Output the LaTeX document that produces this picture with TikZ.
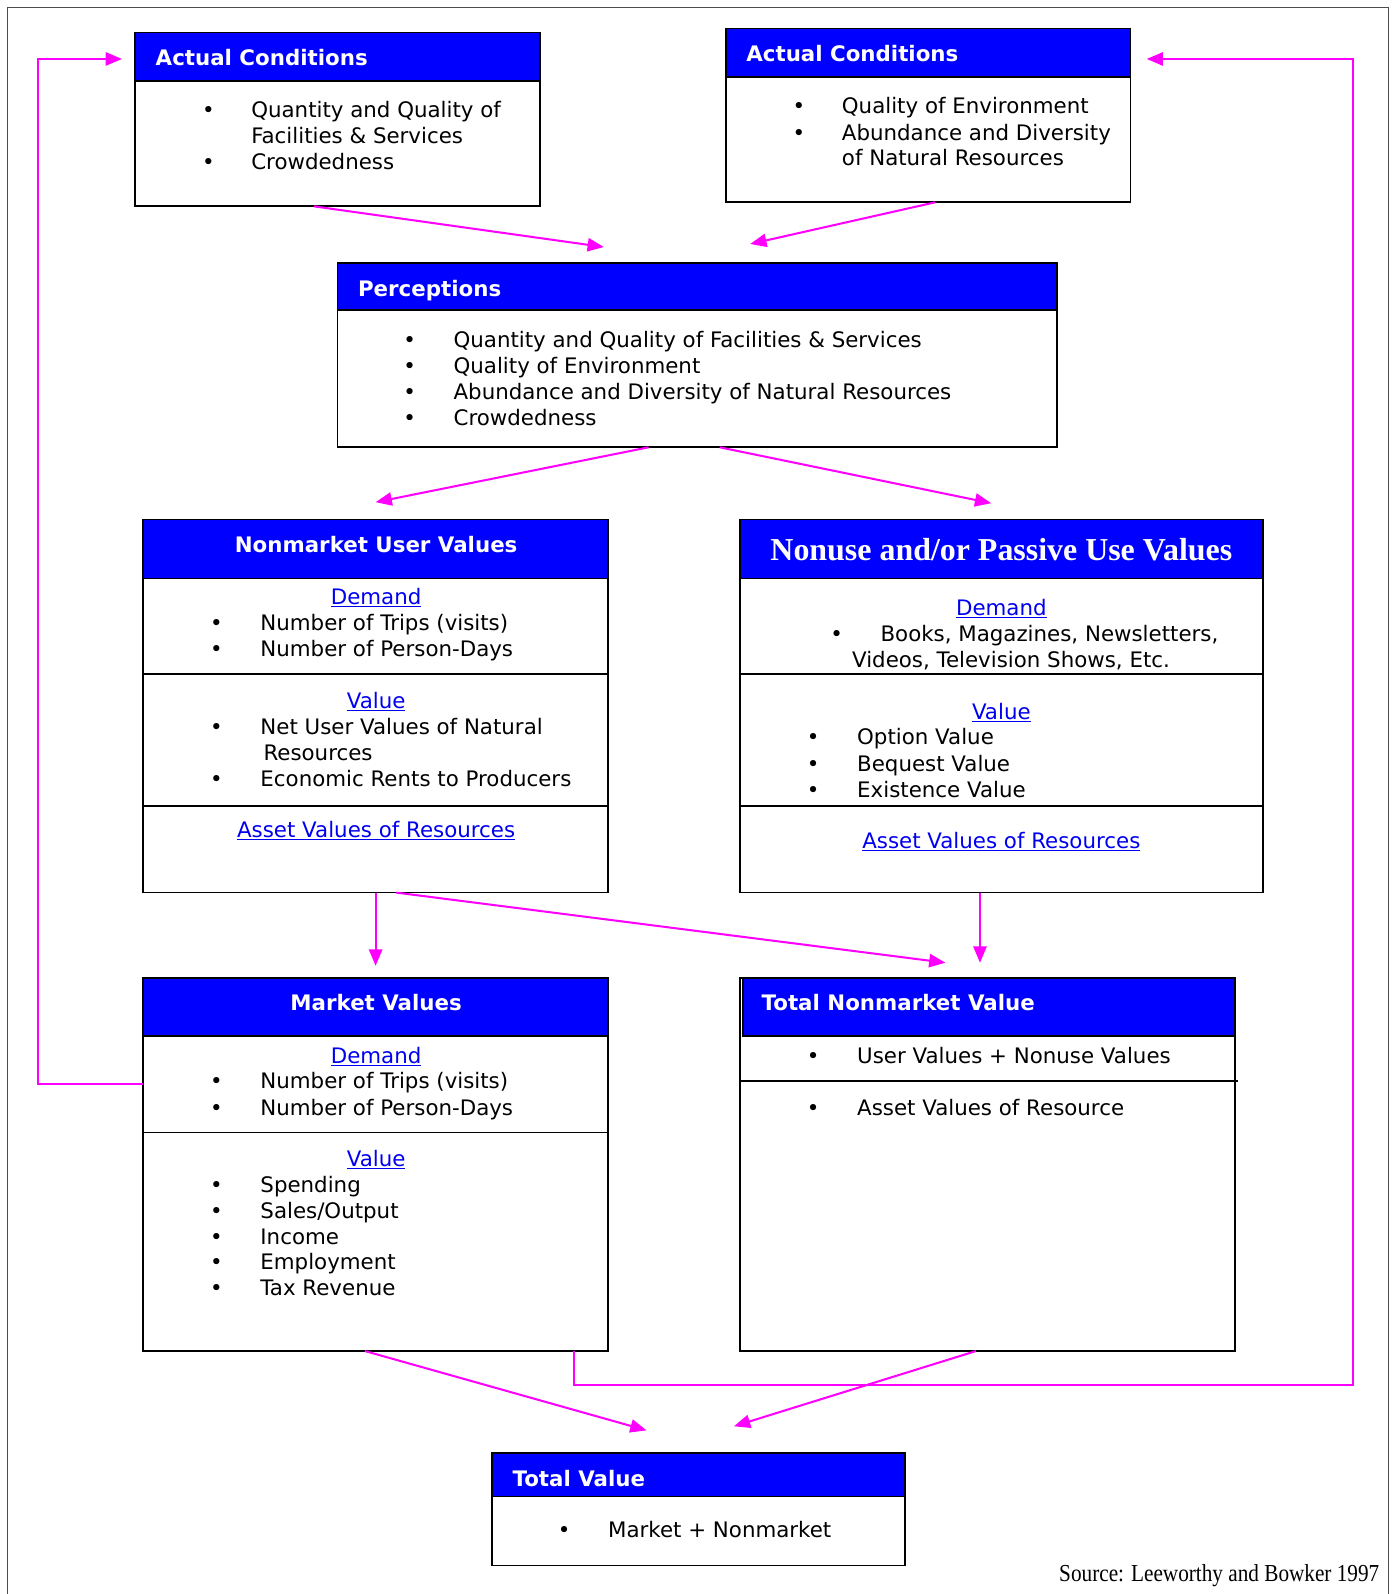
\documentclass[tikz,border=0pt]{standalone}
\usepackage{fontspec}
\setmainfont{DejaVu Sans}
\newfontfamily\timesfont{Liberation Serif}
\usepackage{graphicx}
\usepackage{tikz}
\usetikzlibrary{arrows.meta,positioning}

\definecolor{hdrblue}{RGB}{0,0,255}
\definecolor{linkblue}{RGB}{0,0,240}
\definecolor{flowmag}{RGB}{255,0,255}
\newcommand{\bodysize}{\fontsize{21}{25.5}\selectfont}

\begin{document}
\begin{tikzpicture}[x=1pt,y=-1pt,
  box/.style={draw=black,line width=1.8pt,anchor=north west,inner sep=0pt,outer sep=0pt},
  head/.style={box,fill=hdrblue},
  txt/.style={font=\bodysize,inner sep=0pt,anchor=base west,yshift=-7.8pt},
  dot/.style={txt,anchor=base},
  ttl/.style={txt,font=\bodysize\bfseries,text=white},
  ttlc/.style={ttl,anchor=base},
  lnk/.style={txt,anchor=base,text=linkblue},
  rule/.style={draw=black,line width=1.8pt},
  flow/.style={draw=flowmag,line width=2pt,-{Triangle[length=16pt,width=13pt]}}]

\useasboundingbox (0,0) rectangle (1372,1568);
\draw[black!70,line width=1.2pt] (7,1568) -- (7,7) -- (1366,7) -- (1366,1568);

%% ---------- actual conditions (left) ----------
\node[box,minimum width=398pt,minimum height=171pt](A1) at (133,32){};
\node[head,minimum width=398pt,minimum height=48pt](A1h) at (133,32){};
\node[ttl](A1t) at (153,57){Actual Conditions};
\foreach \y in {108,159}
  \node[dot](A1b\y) at (205,\y){\textbullet};
\node[txt](A1l1) at (247,108){Quantity and Quality of};
\node[txt](A1l2) at (247,133){Facilities \& Services};
\node[txt](A1l3) at (247,159){Crowdedness};

%% ---------- actual conditions (right) ----------
\node[box,minimum width=398pt,minimum height=171pt](A2) at (714,28){};
\node[head,minimum width=398pt,minimum height=48pt](A2h) at (714,28){};
\node[ttl](A2t) at (734,53){Actual Conditions};
\foreach \y in {104,130}
  \node[dot](A2b\y) at (786,\y){\textbullet};
\node[txt](A2l1) at (828,104){Quality of Environment};
\node[txt](A2l2) at (828,130){Abundance and Diversity};
\node[txt](A2l3) at (828,155){of Natural Resources};

%% ---------- perceptions ----------
\node[box,minimum width=708pt,minimum height=181pt](P) at (332,259){};
\node[head,minimum width=708pt,minimum height=46pt](Ph) at (332,259){};
\node[ttl](Pt) at (352,284){Perceptions};
\foreach \y/\t in {334/{Quantity and Quality of Facilities \& Services},
                   360/{Quality of Environment},
                   385/{Abundance and Diversity of Natural Resources},
                   411/{Crowdedness}}{
  \node[dot](Pb\y) at (403,\y){\textbullet};
  \node[txt](Pl\y) at (446,\y){\t};
}

%% ---------- nonmarket user values ----------
\node[box,minimum width=457pt,minimum height=367pt](NU) at (141,511){};
\node[head,minimum width=457pt,minimum height=58pt](NUh) at (141,511){};
\node[ttlc](NUt) at (370,536){Nonmarket User Values};
\draw[rule] (NU.west |- 0,663) -- (NU.east |- 0,663);
\draw[rule] (NU.west |- 0,793) -- (NU.east |- 0,793);
\node[lnk](NUd) at (370,587){\underline{Demand}};
\foreach \y in {612,638,715,766}
  \node[dot](NUb\y) at (213,\y){\textbullet};
\node[txt](NUl1) at (256,612){Number of Trips (visits)};
\node[txt](NUl2) at (256,638){Number of Person-Days};
\node[lnk](NUv) at (370,689){\underline{Value}};
\node[txt](NUl3) at (256,715){Net User Values of Natural};
\node[txt](NUl4) at (259,740){Resources};
\node[txt](NUl5) at (256,766){Economic Rents to Producers};
\node[lnk](NUa) at (370,816){\underline{Asset Values of Resources}};

%% ---------- nonuse values ----------
\node[box,minimum width=514pt,minimum height=367pt](NP) at (728,511){};
\node[head,minimum width=514pt,minimum height=58pt](NPh) at (728,511){};
\node[ttlc,font=\timesfont\bfseries\fontsize{31.4}{36}\selectfont,yshift=-2.7pt](NPt) at (985,541)
  {Nonuse and/or Passive Use Values};
\draw[rule] (NP.west |- 0,663) -- (NP.east |- 0,663);
\draw[rule] (NP.west |- 0,793) -- (NP.east |- 0,793);
\node[lnk](NPd) at (985,598){\underline{Demand}};
\node[dot](NPb1) at (823,623){\textbullet};
\node[txt](NPl1) at (866,623){Books, Magazines, Newsletters,};
\node[txt](NPl2) at (838,649){Videos, Television Shows, Etc.};
\node[lnk](NPv) at (985,700){\underline{Value}};
\foreach \y/\t in {725/Option Value,751/Bequest Value,777/Existence Value}{
  \node[dot](NPb\y) at (800,\y){\textbullet};
  \node[txt](NPl\y) at (843,\y){\t};
}
\node[lnk](NPa) at (985,827){\underline{Asset Values of Resources}};

%% ---------- market values ----------
\node[box,minimum width=457pt,minimum height=367pt](MV) at (141,962){};
\node[head,minimum width=457pt,minimum height=57pt](MVh) at (141,962){};
\node[ttlc](MVt) at (370,986){Market Values};
\draw[rule] (MV.west |- 0,1114) -- (MV.east |- 0,1114);
\node[lnk](MVd) at (370,1038){\underline{Demand}};
\node[lnk](MVv) at (370,1140){\underline{Value}};
\foreach \y/\t in {1063/{Number of Trips (visits)},1089/{Number of Person-Days},
                   1165/{Spending},1191/{Sales/Output},1216/{Income},
                   1241/{Employment},1267/{Tax Revenue}}{
  \node[dot](MVb\y) at (213,\y){\textbullet};
  \node[txt](MVl\y) at (256,\y){\t};
}

%% ---------- total nonmarket value ----------
\node[box,minimum width=487pt,minimum height=367pt](TN) at (728,962){};
\node[head,minimum width=484pt,minimum height=57pt](TNh) at (731,962){};
\node[ttl](TNt) at (749,986){Total Nonmarket Value};
\draw[rule] (TN.west |- 0,1063) -- ++(490,0);
\foreach \y/\t in {1038/{User Values + Nonuse Values},1089/{Asset Values of Resource}}{
  \node[dot](TNb\y) at (800,\y){\textbullet};
  \node[txt](TNl\y) at (843,\y){\t};
}

%% ---------- total value ----------
\node[box,minimum width=406pt,minimum height=111pt](TV) at (484,1429){};
\node[head,minimum width=406pt,minimum height=43pt](TVh) at (484,1429){};
\node[ttl](TVt) at (504,1454){Total Value};
\node[dot](TVb) at (555,1505){\textbullet};
\node[txt](TVl) at (598,1505){Market + Nonmarket};

\node[anchor=base east,inner sep=0pt,yshift=-7pt,font=\timesfont\fontsize{24}{28}\selectfont](src)
  at (1357,1549){\scalebox{0.87}[1]{Source: Leeworthy and Bowker 1997}};

%% ---------- flows ----------
\draw[flow] ([xshift=-23pt]A1.south) -- ([xshift=-92pt,yshift=16pt]P.north);
\draw[flow] ([xshift=7pt]A2.south) -- ([xshift=52pt,yshift=19pt]P.north);
\draw[flow] ([xshift=-48pt]P.south) -- ([yshift=17pt]NU.north);
\draw[flow] ([xshift=22pt]P.south) -- ([xshift=-10pt,yshift=16pt]NP.north);
\draw[flow] (NU.south) -- ([yshift=12pt]MV.north);
\draw[flow] ([xshift=20pt]NU.south) -- ([xshift=-41.5pt,yshift=15pt]TN.north);
\draw[flow] ([xshift=-21pt]NP.south) -- ([xshift=-7.5pt,yshift=15pt]TN.north);
\draw[flow] ([xshift=-10.5pt]MV.south) -- ([xshift=-51pt,yshift=22pt]TV.north);
\draw[flow] ([xshift=-11.5pt]TN.south) -- ([xshift=35pt,yshift=26pt]TV.north);
% feedback loops
\draw[flow] ([yshift=79.5pt]MV.west) -- ++(-104,0) |- ([xshift=-13pt,yshift=-2pt]A1h.west);
\draw[flow] ([xshift=195.5pt]MV.south) -- ++(0,33) -- ++(766,0)
  |- ([xshift=16pt,yshift=-6pt]A2h.east);

\end{tikzpicture}
\end{document}
